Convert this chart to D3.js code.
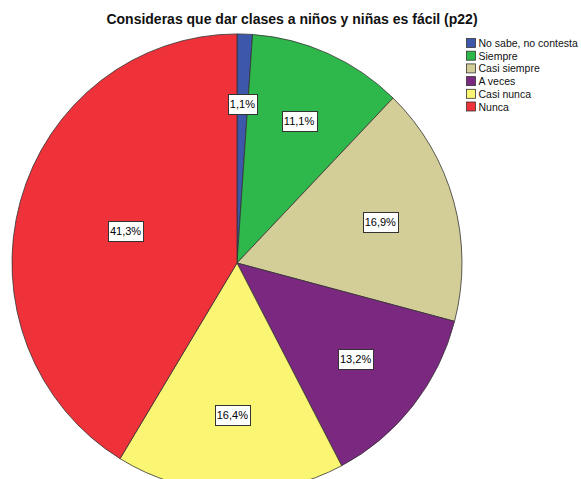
<!DOCTYPE html>
<html>
<head>
<meta charset="utf-8">
<script src="https://cdn.jsdelivr.net/npm/d3@7"></script>
<style>
  body { margin: 0; background: #fff; }
  svg { display: block; font-family: "Liberation Sans", Arial, sans-serif; }
</style>
</head>
<body>
<div id="chart"></div>
<script>
// Data
const categories = ["No sabe, no contesta", "Siempre", "Casi siempre", "A veces", "Casi nunca", "Nunca"];
const percents = [1.1, 11.1, 16.9, 13.2, 16.4, 41.3];
const colors = ["#3d58aa", "#2eb74a", "#d3ce97", "#7b2880", "#faf673", "#ef3139"];
const title = "Consideras que dar clases a niños y niñas es fácil (p22)";

const width = 581, height = 479;
const cx = 237, cy = 263, r = 225, yStretch = 1.018;

const svg = d3.select("#chart").append("svg")
    .attr("width", width)
    .attr("height", height);

// Title
svg.append("text")
    .attr("x", 292)
    .attr("y", 24)
    .attr("text-anchor", "middle")
    .attr("font-size", 14)
    .attr("font-weight", "bold")
    .attr("fill", "#111")
    .text(title);

const data = categories.map((c, i) => ({cat: c, value: percents[i], color: colors[i]}));

const pie = d3.pie().value(d => d.value).sort(null);
const arcs = pie(data);
const arc = d3.arc().innerRadius(0).outerRadius(r);

const g = svg.append("g")
    .attr("transform", `translate(${cx},${cy}) scale(1,${yStretch})`);

g.selectAll("path.slice")
  .data(arcs)
  .enter().append("path")
    .attr("class", "slice")
    .attr("d", arc)
    .attr("fill", d => d.data.color)
    .attr("stroke", "#333")
    .attr("stroke-width", 0.8)
    .attr("vector-effect", "non-scaling-stroke");

// Labels placed near each sector's centroid (geometric)
const fmt = v => d3.format(".1f")(v).replace(".", ",") + "%";
const lab = svg.append("g").attr("transform", `translate(${cx},${cy})`);

arcs.forEach(d => {
  const theta = d.endAngle - d.startAngle;
  const mid = (d.startAngle + d.endAngle) / 2;
  const dist = 1.04 * r * 2 * Math.sin(theta / 2) / (3 * theta / 2);
  const x = dist * Math.sin(mid), y = -dist * Math.cos(mid) * yStretch;
  const t = lab.append("text")
      .attr("x", x)
      .attr("y", y)
      .attr("text-anchor", "middle")
      .attr("dominant-baseline", "central")
      .attr("font-size", 11)
      .attr("fill", "#000")
      .text(fmt(d.data.value));
  const bb = t.node().getBBox();
  lab.insert("rect", "text")
      .attr("x", Math.round(bb.x - 2) + 0.5)
      .attr("y", Math.round(y - 10) + 0.5)
      .attr("width", Math.round(bb.width + 4))
      .attr("height", 20)
      .attr("fill", "#fff")
      .attr("stroke", "#333")
      .attr("stroke-width", 1);
});

// Legend
const legend = svg.append("g").attr("transform", "translate(466,38)");
const rowH = 12.7;
data.forEach((d, i) => {
  const row = legend.append("g").attr("transform", `translate(0,${i * rowH})`);
  row.append("rect")
      .attr("x", 0.5).attr("y", 0.5)
      .attr("width", 9).attr("height", 9)
      .attr("fill", d.color)
      .attr("stroke", "#333")
      .attr("stroke-width", 0.8);
  row.append("text")
      .attr("x", 12.5)
      .attr("y", 5)
      .attr("dominant-baseline", "central")
      .attr("font-size", 10.5)
      .attr("fill", "#111")
      .text(d.cat);
});
</script>
</body>
</html>
